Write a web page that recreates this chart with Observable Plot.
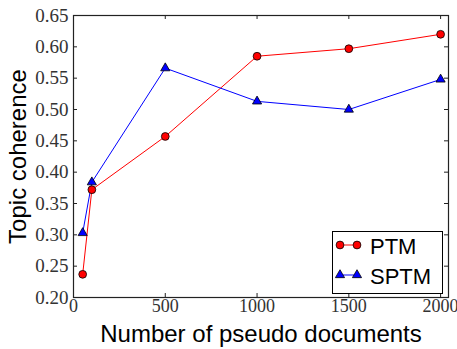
<!DOCTYPE html>
<html>
<head>
<meta charset="utf-8">
<script src="https://cdn.jsdelivr.net/npm/d3@7"></script>
<script src="https://cdn.jsdelivr.net/npm/@observablehq/plot@0.6"></script>
<style>
  html, body { margin: 0; padding: 0; background: #fff; }
  #chart { position: relative; width: 457px; height: 349px; }
  #legend { position: absolute; left: 0; top: 0; }
</style>
</head>
<body>
<div id="chart"></div>
<script>
// ---- data ----
const docs = [50, 100, 500, 1000, 1500, 2000];
const ptm = [0.237, 0.372, 0.457, 0.585, 0.597, 0.620];
const sptm = [0.303, 0.384, 0.566, 0.513, 0.500, 0.548];
const seriesNames = ["PTM", "SPTM"];
const seriesColors = ["#ff0000", "#0000ff"];
const seriesSymbols = ["circle", "triangle"];
const xTicks = [0, 500, 1000, 1500, 2000];
const yTicks = [0.20, 0.25, 0.30, 0.35, 0.40, 0.45, 0.50, 0.55, 0.60, 0.65];
const xTitle = "Number of pseudo documents";
const yTitle = "Topic coherence";

// ---- layout ----
const W = 457, H = 349;
const ml = 73, mr = 9, mt = 15, mb = 52;
const fw = W - ml - mr, fh = H - mt - mb;
const tickLen = 4;
const rCircle = 3.9, rTri = 3.4;

const rows = [];
docs.forEach((d, i) => rows.push({x: d, y: ptm[i], s: seriesNames[0]}));
docs.forEach((d, i) => rows.push({x: d, y: sptm[i], s: seriesNames[1]}));

const sans = "Liberation Sans";
const serif = "Liberation Serif";
const fmtY = d3.format(".2f");

const plot = Plot.plot({
  width: W, height: H,
  marginLeft: ml, marginRight: mr, marginTop: mt, marginBottom: mb,
  style: {background: "white"},
  x: {domain: [0, 2043], axis: null},
  y: {domain: [0.2, 0.65], axis: null},
  color: {domain: seriesNames, range: seriesColors},
  symbol: {domain: seriesNames, range: seriesSymbols},
  marks: [
    // inward ticks
    Plot.tickY(yTicks, {y: d => d, insetRight: fw - tickLen, stroke: "#222"}),
    Plot.tickY(yTicks, {y: d => d, insetLeft: fw - tickLen, stroke: "#222"}),
    Plot.tickX(xTicks, {x: d => d, insetTop: fh - tickLen, stroke: "#222"}),
    Plot.tickX(xTicks, {x: d => d, insetBottom: fh - tickLen, stroke: "#222"}),
    // tick labels
    Plot.text(yTicks, {y: d => d, text: d => fmtY(d), frameAnchor: "left", textAnchor: "end", lineAnchor: "middle", dx: -5, fontFamily: serif, fontSize: 19, fill: "#333"}),
    Plot.text(xTicks, {x: d => d, text: d => String(d), frameAnchor: "bottom", textAnchor: "middle", lineAnchor: "top", dy: 2, fontFamily: serif, fontSize: 18, fill: "#333"}),
    Plot.line(rows, {x: "x", y: "y", z: "s", stroke: "s", strokeWidth: 1}),
    Plot.dot(rows.filter(d => d.s === "PTM"), {x: "x", y: "y", fill: "s", symbol: "s", r: rCircle, stroke: "black", strokeWidth: 0.8}),
    Plot.dot(rows.filter(d => d.s === "SPTM"), {x: "x", y: "y", fill: "s", symbol: "s", r: rTri, stroke: "black", strokeWidth: 0.8}),
    Plot.frame({stroke: "#222", strokeWidth: 1.2}),
    Plot.text([xTitle], {frameAnchor: "bottom", textAnchor: "middle", lineAnchor: "middle", dy: 37, fontSize: 24, fontFamily: sans, fill: "black"}),
    Plot.text([yTitle], {frameAnchor: "left", textAnchor: "middle", lineAnchor: "middle", dx: -55, rotate: -90, fontSize: 24, fontFamily: sans, fill: "black"})
  ]
});
const chart = document.getElementById("chart");
chart.appendChild(plot);

// ---- legend (overlay) ----
const lg = d3.select(chart).append("svg")
  .attr("id", "legend").attr("width", W).attr("height", H);
const bx = 332, by = 231, bw = 110, bh = 62;
lg.append("rect").attr("x", bx + 0.5).attr("y", by + 0.5).attr("width", bw).attr("height", bh)
  .attr("fill", "white").attr("stroke", "black").attr("stroke-width", 1);
const rowY = [245, 275];
seriesNames.forEach((name, i) => {
  const cy = rowY[i];
  const x1 = 340, x2 = 357;
  lg.append("line").attr("x1", x1).attr("x2", x2).attr("y1", cy).attr("y2", cy)
    .attr("stroke", seriesColors[i]).attr("stroke-width", 1);
  const isC = seriesSymbols[i] === "circle";
  const sym = d3.symbol(isC ? d3.symbolCircle : d3.symbolTriangle, Math.PI * Math.pow(isC ? rCircle : rTri, 2));
  [x1, x2].forEach(x => {
    lg.append("path").attr("d", sym()).attr("transform", `translate(${x},${cy})`)
      .attr("fill", seriesColors[i]).attr("stroke", "black").attr("stroke-width", 0.8);
  });
  lg.append("text").attr("x", 370).attr("y", cy + 8.5)
    .attr("font-family", sans).attr("font-size", 22).attr("fill", "black").text(name);
});
</script>
</body>
</html>
